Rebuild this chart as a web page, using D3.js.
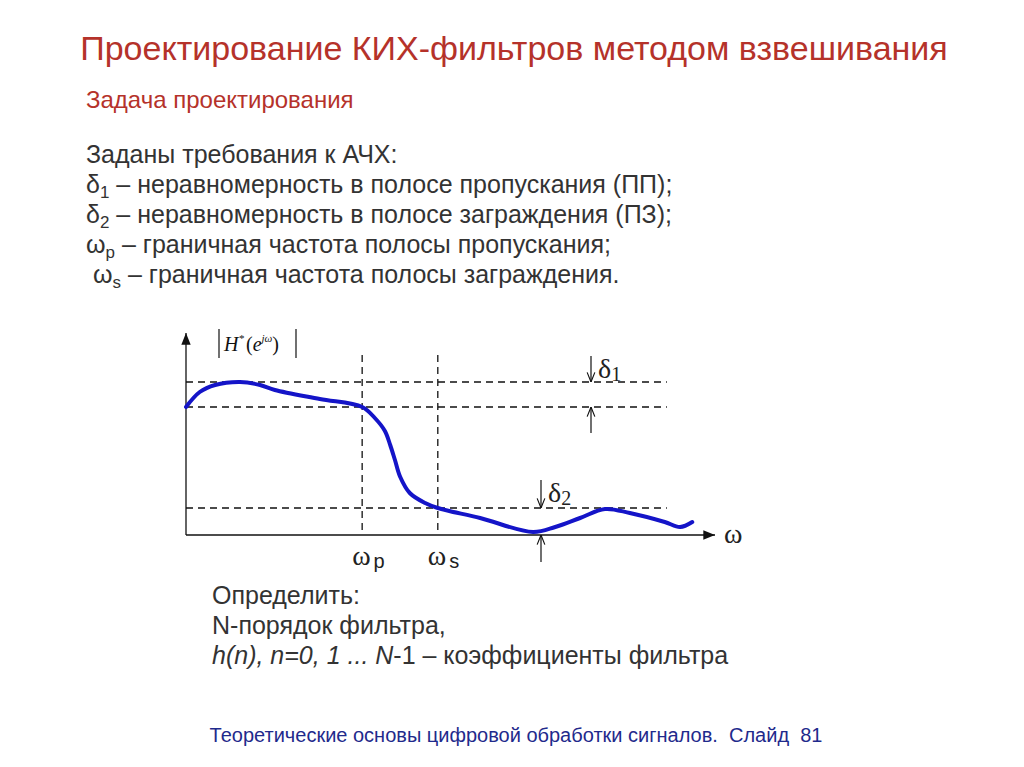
<!DOCTYPE html>
<html><head><meta charset="utf-8">
<script src="https://cdn.jsdelivr.net/npm/d3@7"></script>
<style>body{margin:0;background:#fff}</style>
</head><body>
<svg id="c" width="1024" height="767"></svg>
<script>
// curve of |H*(e^jw)| (w and H in relative units)
var omega = [0, .026, .055, .102, .14, .168, .253, .333, .357, .376, .386, .395, .405, .423, .452, .476, .556, .656, .698, .745, .792, .839, .905, .934, .957];
var mag   = [.64, .715, .75, .765, .75, .725, .68, .64, .585, .52, .45, .375, .29, .21, .16, .135, .085, .015, .04, .085, .13, .11, .065, .04, .065];
var levels = [.765, .64, .135];   // 1+d1, 1-d1, d2
var edges = [.333, .476];         // wp, ws
var edgeLabels = ["p", "s"];

var svg = d3.select("#c");
var x = d3.scaleLinear().domain([0, 1]).range([186, 715]);
var y = d3.scaleLinear().domain([0, 1]).range([535, 335]);
var font = "Arial, 'Liberation Sans', sans-serif";

svg.append("text").attr("x", 514).attr("y", 60).attr("text-anchor", "middle")
  .attr("font-family", font).attr("font-size", 34).attr("fill", "#b5322a")
  .text("Проектирование КИХ-фильтров методом взвешивания");
svg.append("text").attr("x", 86).attr("y", 108).attr("font-family", font)
  .attr("font-size", 24).attr("fill", "#b5322a").text("Задача проектирования");

var lines = [
  ["", "", "Заданы требования к АЧХ:"],
  ["δ", "1", " – неравномерность в полосе пропускания (ПП);"],
  ["δ", "2", " – неравномерность в полосе заграждения (ПЗ);"],
  ["ω", "p", " – граничная частота полосы пропускания;"],
  [" ω", "s", " – граничная частота полосы заграждения."]
];
lines.forEach(function (ln, i) {
  var t = svg.append("text").attr("x", 86).attr("y", 163 + i * 30)
    .attr("font-family", font).attr("font-size", 25).attr("fill", "#333")
    .attr("xml:space", "preserve");
  if (ln[0]) t.append("tspan").text(ln[0]);
  if (ln[1]) t.append("tspan").attr("font-size", 17).attr("dy", 5).text(ln[1]);
  t.append("tspan").attr("dy", ln[1] ? -5 : 0).text(ln[2]);
});

var g = svg.append("g");
// dashed reference lines
g.selectAll(".h").data(levels).enter().append("line")
  .attr("x1", x(0)).attr("x2", x(.909)).attr("y1", d => y(d)).attr("y2", d => y(d))
  .attr("stroke", "#111").attr("stroke-width", 1.3).attr("stroke-dasharray", "7,5");
g.selectAll(".v").data(edges).enter().append("line")
  .attr("x1", d => x(d)).attr("x2", d => x(d)).attr("y1", y(.9)).attr("y2", y(0))
  .attr("stroke", "#111").attr("stroke-width", 1.3).attr("stroke-dasharray", "7,5");

// axes
var defs = svg.append("defs");
defs.append("marker").attr("id", "ah").attr("viewBox", "0 0 10 10").attr("refX", 10).attr("refY", 5)
  .attr("markerWidth", 9).attr("markerHeight", 9).attr("orient", "auto-start-reverse")
  .append("path").attr("d", "M0,1L10,5L0,9z").attr("fill", "#111");
defs.append("marker").attr("id", "op").attr("viewBox", "0 0 10 10").attr("refX", 10).attr("refY", 5)
  .attr("markerWidth", 8).attr("markerHeight", 8).attr("orient", "auto")
  .append("path").attr("d", "M0,1L10,5L0,9").attr("fill", "none").attr("stroke", "#111").attr("stroke-width", 1.2);
g.append("line").attr("x1", x(0)).attr("x2", x(0)).attr("y1", y(0)).attr("y2", y(1.01))
  .attr("stroke", "#111").attr("stroke-width", 1.3).attr("marker-end", "url(#ah)");
g.append("line").attr("x1", x(0)).attr("x2", x(1)).attr("y1", y(0)).attr("y2", y(0))
  .attr("stroke", "#111").attr("stroke-width", 1.3).attr("marker-end", "url(#ah)");
g.append("text").attr("x", x(1) + 9).attr("y", y(0) + 8).attr("font-family", "'Liberation Serif',serif")
  .attr("font-size", 28).attr("fill", "#222").text("ω");

// y label |H*(e^jw)|
var yl = g.append("text").attr("x", 224).attr("y", 351).attr("font-family", "'Liberation Serif',serif")
  .attr("font-size", 20).attr("font-style", "italic").attr("fill", "#111");
yl.append("tspan").text("H");
yl.append("tspan").attr("font-size", 11).attr("dy", -9).text("*");
yl.append("tspan").attr("dy", 9).attr("dx", 2).attr("font-style", "normal").text("(");
yl.append("tspan").text("e");
yl.append("tspan").attr("font-size", 11).attr("dy", -9).text("jω");
yl.append("tspan").attr("dy", 9).attr("font-style", "normal").text(")");
[219, 296].forEach(function (px) {
  g.append("line").attr("x1", px).attr("x2", px).attr("y1", 329).attr("y2", 358).attr("stroke", "#111").attr("stroke-width", 1.2);
});

// edge labels
edges.forEach(function (e, i) {
  var t = g.append("text").attr("x", x(e) - 10).attr("y", y(0) + 30).attr("font-family", font)
    .attr("fill", "#222");
  t.append("tspan").attr("font-family", "'Liberation Serif',serif").attr("font-size", 28).text("ω");
  t.append("tspan").attr("font-size", 20).attr("dy", 3).attr("dx", 3).text(edgeLabels[i]);
});

// delta arrows
function arrow(px, from, to) {
  g.append("line").attr("x1", px).attr("x2", px).attr("y1", from).attr("y2", to)
    .attr("stroke", "#111").attr("stroke-width", 1.2).attr("marker-end", "url(#op)");
}
arrow(591, 356, y(levels[0]));
arrow(591, 433, y(levels[1]));
arrow(541, 480, y(levels[2]));
arrow(541, 562, y(0));
function delta(px, py, sub) {
  var t = g.append("text").attr("x", px).attr("y", py).attr("font-family", "'Liberation Serif',serif")
    .attr("font-size", 28).attr("fill", "#222").text("δ");
  t.append("tspan").attr("font-size", 20).attr("dy", 3).text(sub);
}
delta(598, 378, "1");
delta(548, 502, "2");

// response curve
g.append("path").datum(d3.zip(omega, mag))
  .attr("d", d3.line().x(d => x(d[0])).y(d => y(d[1])).curve(d3.curveCatmullRom))
  .attr("fill", "none").attr("stroke", "#1414c8").attr("stroke-width", 4).attr("stroke-linecap", "round");

// bottom text
["Определить:", "N-порядок фильтра,"].forEach(function (l, i) {
  svg.append("text").attr("x", 212).attr("y", 604 + i * 30).attr("font-family", font)
    .attr("font-size", 25).attr("fill", "#333").text(l);
});
var last = svg.append("text").attr("x", 212).attr("y", 664).attr("font-family", font)
  .attr("font-size", 25).attr("fill", "#333");
last.append("tspan").attr("font-style", "italic").text("h(n), n=0, 1 ... N");
last.append("tspan").text("-1 – коэффициенты фильтра");

svg.append("text").attr("x", 516).attr("y", 742).attr("text-anchor", "middle").attr("font-family", font)
  .attr("font-size", 20).attr("fill", "#1f2a8c").attr("xml:space", "preserve")
  .text("Теоретические основы цифровой обработки сигналов.  Слайд  81");
</script>
</body></html>
